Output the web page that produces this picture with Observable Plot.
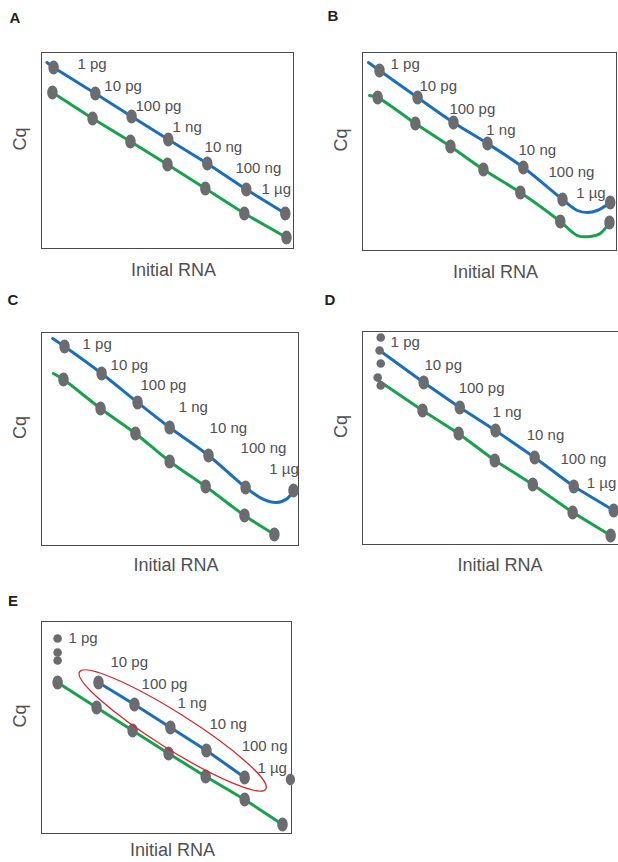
<!DOCTYPE html>
<html>
<head>
<meta charset="utf-8">
<script src="https://cdn.jsdelivr.net/npm/d3@7"></script>
<script src="https://cdn.jsdelivr.net/npm/@observablehq/plot@0.6"></script>
<style>
  html, body { margin: 0; padding: 0; background: #fff; overflow: hidden; }
  #page { position: relative; width: 618px; height: 862px; overflow: hidden; font-family: "Liberation Sans", Arial, sans-serif; }
  .panel { position: absolute; }
  .panel svg { display: block; overflow: visible; max-width: none !important; }
  .letter { position: absolute; font-weight: bold; font-size: 15px; color: #231f20; transform: translate(-50%, -50%); }
</style>
</head>
<body>
<div id="page"></div>
<script>
// ---- data: x = log10(input RNA, pg) ; y = Cq (schematic units) ----
const amountLabels = ["1 pg", "10 pg", "100 pg", "1 ng", "10 ng", "100 ng", "1 µg"];
const panelLetters = ["A", "B", "C", "D", "E"];
const xLabel = "Initial RNA";
const yLabel = "Cq";

// Panel A – ideal: two parallel standard curves
const aBlue  = [[0.03,37.70],[1.10,33.72],[2.03,30.20],[2.97,26.68],[3.97,23.00],[4.97,19.03],[5.97,15.35]];
const aGreen = [[0,33.88],[1.03,29.90],[2.00,26.37],[2.95,22.85],[3.92,19.18],[4.92,15.35],[6.00,11.68]];
const aBlueStart  = [[-0.14,38.47]];
const aGreenStart = [];
const aLabels = [[0.64,38.16],[1.33,34.79],[2.13,31.73],[3.08,28.52],[3.90,25.46],[4.69,22.24],[5.36,19.02]];

// Panel B – both assays inhibited at 1 µg
const bBlue  = [[0,37.27],[1.03,33.18],[2.00,29.39],[2.92,26.21],[3.89,22.58],[4.95,17.73],[6.24,17.27]];
const bGreen = [[-0.05,33.18],[0.97,29.24],[1.92,25.76],[2.81,22.27],[3.81,18.79],[4.89,14.40],[6.22,14.24]];
const bBlueStart  = [[-0.30,38.48]];
const bGreenStart = [[-0.27,33.49]];
const bBlueBend  = [[5.35,16.06],[5.62,15.76],[5.89,16.06]];
const bGreenBend = [[5.35,12.27],[5.70,12.12],[5.97,12.58]];
const bLabels = [[0.30,38.18],[1.08,34.85],[1.89,31.36],[2.89,28.18],[3.76,25.15],[4.57,21.82],[5.32,18.64]];

// Panel C – only the blue assay inhibited at 1 µg
const cBlue  = [[0,38.03],[1.03,34.23],[2.03,30.14],[2.92,26.62],[4.00,22.68],[5.03,18.18],[6.36,17.75]];
const cGreen = [[-0.03,33.38],[1.00,29.30],[1.97,25.78],[2.92,21.84],[3.92,18.32],[5.00,14.23],[5.83,11.56]];
const cBlueStart  = [[-0.33,39.16]];
const cGreenStart = [[-0.31,34.23]];
const cBlueBend = [[5.53,16.49],[5.89,16.06],[6.19,16.63]];
const cLabels = [[0.50,38.31],[1.28,35.35],[2.11,32.54],[3.17,29.44],[4.03,26.48],[4.89,23.67],[5.69,20.71]];

// Panel D – scattered replicates at 1 pg
const dBlue  = [[1.16,32.82],[2.11,29.30],[3.05,26.06],[4.08,22.26],[5.11,18.18],[6.16,14.80]];
const dGreen = [[1.13,28.88],[2.08,25.64],[3.03,21.84],[4.03,18.46],[5.08,14.52],[6.08,11.28]];
const dReplicates = [[0.03,39.16],[0,37.32],[0.03,35.49],[-0.05,33.52],[0.03,32.40]];
const dBlueStart  = [[0,37.32]];
const dGreenStart = [[-0.11,33.38]];
const dLabels = [[0.29,38.45],[1.18,35.21],[2.08,31.97],[2.97,28.59],[3.87,25.36],[4.76,21.98],[5.45,18.60]];

// Panel E – reliable dynamic range highlighted
const eGreen = [[0,31.37],[1.04,27.83],[2.00,24.58],[2.96,21.32],[3.95,18.07],[4.99,14.81],[6.00,11.28]];
const eBlue  = [[1.09,31.37],[2.05,28.26],[3.01,25.00],[3.97,21.75],[4.99,17.93]];
const eReplicates = [[0,37.59],[0,35.61],[0,34.48]];
const eOutlier = [[6.21,17.64]];
const eRange = [[3.07,24.58]];
const eLabels = [[0.29,37.59],[1.41,34.20],[2.24,31.09],[3.20,28.40],[4.05,25.43],[4.91,22.31],[5.33,19.20]];

// ---- style ----
const BLUE = "#1b6fba", GREEN = "#18a24b", DOT = "#6b6c70", TEXT = "#505052", FRAME = "#4a4a4c", RED = "#d7262b";
const FONT = "Liberation Sans, Arial, sans-serif";

function ellipseSymbol(rx, ry, angleDeg = 0) {
  const k = 0.5523, a = angleDeg * Math.PI / 180, c = Math.cos(a), s = Math.sin(a);
  const p = (x, y) => [x * c - y * s, x * s + y * c];
  return {
    draw(ctx) {
      ctx.moveTo(...p(rx, 0));
      ctx.bezierCurveTo(...p(rx, ry * k), ...p(rx * k, ry), ...p(0, ry));
      ctx.bezierCurveTo(...p(-rx * k, ry), ...p(-rx, ry * k), ...p(-rx, 0));
      ctx.bezierCurveTo(...p(-rx, -ry * k), ...p(-rx * k, -ry), ...p(0, -ry));
      ctx.bezierCurveTo(...p(rx * k, -ry), ...p(rx, -ry * k), ...p(rx, 0));
      ctx.closePath();
    }
  };
}
const bigDot = ellipseSymbol(5.2, 7);
const X = d => d[0], Y = d => d[1];

const panels = [
  { letter: panelLetters[0], left: 0, top: 0, width: 309, height: 285, m: [52, 16, 37, 41], xd: [-0.28, 6.18],
    letterPos: [15, 17], curve: "linear", xdy: 22,
    blueLine: [...aBlueStart, ...aBlue], greenLine: [...aGreenStart, ...aGreen],
    big: [...aBlue, ...aGreen], small: [], labels: aLabels },
  { letter: panelLetters[1], left: 309, top: 0, width: 309, height: 285, m: [52, 2, 35, 53], xd: [-0.46, 6.41],
    letterPos: [333, 15], curve: "catmull-rom", xdy: 22,
    blueLine: [...bBlueStart, ...bBlue.slice(0, 6), ...bBlueBend, bBlue[6]],
    greenLine: [...bGreenStart, ...bGreen.slice(0, 6), ...bGreenBend, bGreen[6]],
    big: [...bBlue, ...bGreen], small: [], labels: bLabels },
  { letter: panelLetters[2], left: 0, top: 285, width: 309, height: 290, m: [47, 11, 30, 41], xd: [-0.64, 6.5],
    letterPos: [13, 299], curve: "catmull-rom", xdy: 20,
    blueLine: [...cBlueStart, ...cBlue.slice(0, 6), ...cBlueBend, cBlue[6]],
    greenLine: [...cGreenStart, ...cGreen],
    big: [...cBlue, ...cGreen], small: [], labels: cLabels },
  { letter: panelLetters[3], left: 309, top: 285, width: 330, height: 290, m: [46, 14, 31, 53], xd: [-0.45, 6.47],
    letterPos: [330, 299], curve: "linear", xdy: 21,
    blueLine: [...dBlueStart, ...dBlue], greenLine: [...dGreenStart, ...dGreen],
    big: [...dBlue, ...dGreen], small: dReplicates, labels: dLabels },
  { letter: panelLetters[4], left: 0, top: 585, width: 309, height: 277, m: [36, 18, 29, 41], xd: [-0.43, 6.24],
    letterPos: [13, 600], curve: "linear", xdy: 17,
    blueLine: eBlue, greenLine: eGreen,
    big: [...eBlue, ...eGreen], small: eReplicates, labels: eLabels,
    extra: eOutlier, range: eRange }
];

const page = document.getElementById("page");
for (const p of panels) {
  const marks = [
    Plot.frame({ stroke: FRAME, strokeWidth: 1 }),
    Plot.line(p.blueLine, { x: X, y: Y, stroke: BLUE, strokeWidth: 3, curve: p.curve }),
    Plot.line(p.greenLine, { x: X, y: Y, stroke: GREEN, strokeWidth: 3, curve: p.curve }),
    Plot.dot(p.big, { x: X, y: Y, symbol: bigDot, fill: DOT }),
    Plot.dot(p.small, { x: X, y: Y, r: 4.3, fill: DOT }),
    Plot.text(p.labels, { x: X, y: Y, text: (d, i) => amountLabels[i], textAnchor: "start", lineAnchor: "middle",
      fill: TEXT, fontSize: 15, fontFamily: FONT }),
    Plot.text([yLabel], { frameAnchor: "left", dx: -21, rotate: -90, fill: TEXT, fontSize: 18, fontFamily: FONT }),
    Plot.text([xLabel], { frameAnchor: "bottom", lineAnchor: "middle", dy: p.xdy, dx: 6, fill: TEXT, fontSize: 18, fontFamily: FONT })
  ];
  if (p.extra) marks.push(Plot.dot(p.extra, { x: X, y: Y, symbol: ellipseSymbol(4.6, 5.8), fill: DOT }));
  if (p.range) marks.push(Plot.dot(p.range, { x: X, y: Y, symbol: ellipseSymbol(110, 18, 32.2), fill: "none", stroke: RED, strokeWidth: 1.3 }));
  const svg = Plot.plot({
    width: p.width, height: p.height,
    marginTop: p.m[0], marginRight: p.m[1], marginBottom: p.m[2], marginLeft: p.m[3],
    x: { domain: p.xd, axis: null },
    y: { domain: [10, 40], axis: null },
    style: { background: "transparent", overflow: "visible", fontFamily: FONT, maxWidth: "none" },
    marks
  });
  const div = document.createElement("div");
  div.className = "panel";
  div.style.left = p.left + "px";
  div.style.top = p.top + "px";
  div.style.width = p.width + "px";
  div.style.height = p.height + "px";
  div.appendChild(svg);
  page.appendChild(div);
  const L = document.createElement("div");
  L.className = "letter";
  L.textContent = p.letter;
  L.style.left = p.letterPos[0] + "px";
  L.style.top = p.letterPos[1] + "px";
  page.appendChild(L);
}
</script>
</body>
</html>
